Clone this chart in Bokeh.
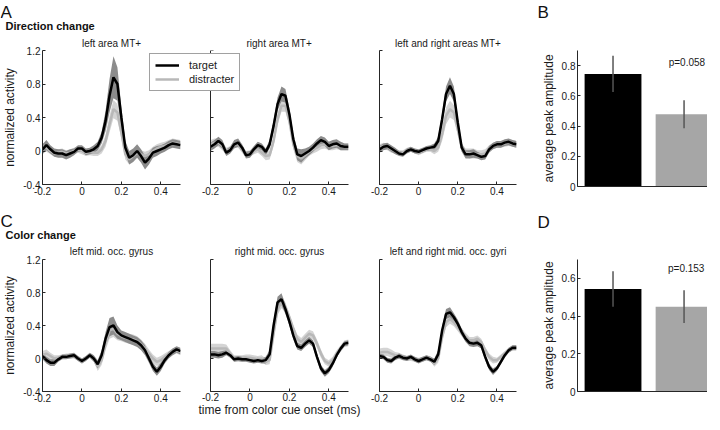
from bokeh.plotting import figure
from bokeh.layouts import column, row
from bokeh.models import (Range1d, FixedTicker, CustomJSTickFormatter, Legend,
                          LegendItem, Label)
from bokeh.embed import file_html
from bokeh.resources import INLINE

FONT = "Liberation Sans"

# ---------------- data ----------------
TIME = [-0.20, -0.18, -0.16, -0.14, -0.12, -0.10, -0.08, -0.06, -0.04, -0.02,
        0.00, 0.02, 0.04, 0.06, 0.08, 0.10, 0.12, 0.14, 0.16, 0.18,
        0.20, 0.22, 0.24, 0.26, 0.28, 0.30, 0.32, 0.34, 0.36, 0.38,
        0.40, 0.42, 0.44, 0.46, 0.48, 0.50]

# Direction change: left area MT+
A1_TARGET = [0.02, 0.07, 0.02, -0.02, -0.03, -0.03, -0.05, -0.03, -0.01, 0.03,
             0.03, -0.01, 0.00, 0.02, 0.06, 0.16, 0.36, 0.66, 0.88, 0.80,
             0.40, 0.04, -0.08, -0.05, 0.00, -0.06, -0.14, -0.09, -0.02, 0.00,
             0.02, 0.04, 0.07, 0.09, 0.08, 0.07]
A1_TARGET_ERR = [0.06, 0.06, 0.05, 0.05, 0.05, 0.05, 0.05, 0.05, 0.04, 0.04,
                 0.04, 0.04, 0.04, 0.05, 0.05, 0.07, 0.12, 0.20, 0.25, 0.20,
                 0.12, 0.08, 0.08, 0.08, 0.08, 0.08, 0.08, 0.07, 0.06, 0.06,
                 0.05, 0.05, 0.05, 0.05, 0.05, 0.05]
A1_DIST = [0.05, 0.04, 0.00, -0.03, -0.02, -0.01, -0.03, -0.02, 0.00, 0.02,
           0.00, -0.02, -0.01, -0.02, -0.02, 0.02, 0.12, 0.32, 0.50, 0.46,
           0.22, -0.04, -0.10, -0.06, -0.02, -0.04, -0.06, -0.04, 0.00, 0.03,
           0.05, 0.06, 0.08, 0.10, 0.09, 0.08]
A1_DIST_ERR = [0.05, 0.05, 0.04, 0.04, 0.04, 0.04, 0.04, 0.04, 0.04, 0.04,
               0.04, 0.04, 0.04, 0.04, 0.04, 0.05, 0.07, 0.10, 0.11, 0.10,
               0.07, 0.06, 0.06, 0.05, 0.05, 0.05, 0.05, 0.05, 0.05, 0.05,
               0.05, 0.05, 0.05, 0.05, 0.05, 0.05]

# Direction change: right area MT+
A2_TARGET = [0.05, 0.08, 0.12, 0.08, -0.02, 0.01, 0.08, 0.10, 0.04, -0.05,
             -0.04, 0.02, 0.07, 0.05, -0.01, 0.08, 0.30, 0.56, 0.68, 0.66,
             0.44, 0.14, -0.04, -0.06, -0.03, 0.00, 0.04, 0.09, 0.13, 0.11,
             0.06, 0.08, 0.09, 0.06, 0.05, 0.05]
A2_TARGET_ERR = [0.05, 0.05, 0.05, 0.05, 0.04, 0.04, 0.05, 0.05, 0.04, 0.04,
                 0.04, 0.04, 0.04, 0.04, 0.04, 0.05, 0.07, 0.08, 0.09, 0.08,
                 0.07, 0.06, 0.07, 0.08, 0.06, 0.05, 0.05, 0.05, 0.05, 0.05,
                 0.05, 0.05, 0.05, 0.05, 0.04, 0.04]
A2_DIST = [0.08, 0.10, 0.10, 0.06, 0.00, 0.02, 0.08, 0.08, 0.02, -0.04,
           -0.03, 0.00, 0.02, -0.02, -0.06, -0.05, 0.12, 0.38, 0.54, 0.54,
           0.36, 0.08, -0.06, -0.09, -0.05, -0.01, 0.02, 0.04, 0.07, 0.08,
           0.06, 0.06, 0.07, 0.06, 0.05, 0.05]
A2_DIST_ERR = [0.05, 0.05, 0.05, 0.05, 0.04, 0.04, 0.04, 0.04, 0.04, 0.04,
               0.04, 0.04, 0.04, 0.04, 0.05, 0.05, 0.06, 0.07, 0.07, 0.07,
               0.06, 0.06, 0.07, 0.07, 0.06, 0.05, 0.05, 0.05, 0.05, 0.05,
               0.05, 0.05, 0.05, 0.05, 0.04, 0.04]

# Direction change: left and right areas MT+
A3_TARGET = [0.02, 0.05, 0.06, 0.03, 0.00, -0.03, -0.04, 0.00, 0.02, 0.00,
             -0.01, 0.01, 0.03, 0.04, 0.05, 0.12, 0.38, 0.68, 0.78, 0.68,
             0.34, 0.04, -0.04, -0.04, -0.03, -0.05, -0.07, -0.06, 0.02, 0.06,
             0.08, 0.08, 0.10, 0.11, 0.09, 0.08]
A3_TARGET_ERR = [0.04, 0.04, 0.04, 0.04, 0.04, 0.03, 0.03, 0.03, 0.03, 0.03,
                 0.03, 0.03, 0.03, 0.03, 0.04, 0.05, 0.07, 0.09, 0.10, 0.09,
                 0.07, 0.05, 0.05, 0.05, 0.05, 0.04, 0.04, 0.04, 0.04, 0.04,
                 0.04, 0.04, 0.04, 0.04, 0.04, 0.04]
A3_DIST = [0.04, 0.06, 0.05, 0.02, 0.00, -0.02, -0.02, 0.01, 0.02, 0.00,
           -0.02, 0.00, 0.02, 0.02, 0.00, 0.04, 0.20, 0.42, 0.50, 0.46,
           0.26, 0.04, -0.02, -0.03, -0.03, -0.04, -0.04, -0.03, 0.03, 0.06,
           0.08, 0.08, 0.09, 0.10, 0.09, 0.08]
A3_DIST_ERR = [0.04, 0.04, 0.04, 0.04, 0.03, 0.03, 0.03, 0.03, 0.03, 0.03,
               0.03, 0.03, 0.03, 0.03, 0.04, 0.05, 0.08, 0.10, 0.10, 0.09,
               0.07, 0.05, 0.05, 0.06, 0.06, 0.05, 0.05, 0.05, 0.04, 0.04,
               0.04, 0.04, 0.04, 0.04, 0.04, 0.04]

# Color change: left mid. occ. gyrus
C1_TARGET = [0.03, -0.02, -0.05, -0.05, -0.01, 0.02, 0.02, 0.03, 0.04, 0.00,
             -0.03, 0.00, 0.04, 0.00, -0.07, 0.04, 0.24, 0.38, 0.40, 0.32,
             0.28, 0.26, 0.24, 0.22, 0.20, 0.16, 0.10, 0.00, -0.10, -0.16,
             -0.10, -0.02, 0.04, 0.08, 0.11, 0.09]
C1_TARGET_ERR = [0.04, 0.04, 0.04, 0.04, 0.03, 0.03, 0.03, 0.03, 0.03, 0.03,
                 0.03, 0.03, 0.03, 0.04, 0.05, 0.06, 0.08, 0.11, 0.11, 0.08,
                 0.06, 0.06, 0.06, 0.06, 0.06, 0.06, 0.06, 0.05, 0.05, 0.05,
                 0.05, 0.04, 0.04, 0.04, 0.04, 0.04]
C1_DIST = [0.04, 0.06, 0.03, 0.00, 0.01, 0.02, 0.03, 0.03, 0.03, 0.00,
           -0.03, 0.00, 0.04, 0.00, -0.10, -0.02, 0.18, 0.34, 0.36, 0.30,
           0.27, 0.25, 0.24, 0.23, 0.21, 0.17, 0.12, 0.06, 0.00, -0.04,
           -0.02, 0.02, 0.05, 0.08, 0.10, 0.08]
C1_DIST_ERR = [0.05, 0.05, 0.04, 0.04, 0.03, 0.03, 0.03, 0.03, 0.03, 0.03,
               0.03, 0.03, 0.03, 0.04, 0.05, 0.06, 0.08, 0.10, 0.10, 0.08,
               0.06, 0.06, 0.06, 0.06, 0.06, 0.06, 0.06, 0.05, 0.05, 0.05,
               0.05, 0.04, 0.04, 0.04, 0.04, 0.04]

# Color change: right mid. occ. gyrus
C2_TARGET = [0.05, 0.05, 0.04, 0.05, 0.07, 0.04, -0.01, 0.00, -0.01, -0.01,
             -0.02, -0.03, -0.02, -0.03, -0.02, 0.05, 0.40, 0.68, 0.72, 0.60,
             0.45, 0.28, 0.15, 0.13, 0.18, 0.22, 0.18, 0.02, -0.12, -0.18,
             -0.14, -0.06, 0.04, 0.12, 0.18, 0.19]
C2_TARGET_ERR = [0.04, 0.04, 0.04, 0.04, 0.03, 0.03, 0.03, 0.03, 0.03, 0.03,
                 0.03, 0.03, 0.03, 0.03, 0.04, 0.05, 0.06, 0.07, 0.07, 0.06,
                 0.05, 0.05, 0.04, 0.04, 0.04, 0.04, 0.04, 0.04, 0.04, 0.04,
                 0.04, 0.04, 0.03, 0.03, 0.03, 0.03]
C2_DIST = [0.12, 0.12, 0.12, 0.12, 0.12, 0.06, 0.00, 0.00, 0.00, 0.01,
           0.01, 0.00, -0.01, 0.00, -0.04, -0.02, 0.30, 0.60, 0.68, 0.62,
           0.50, 0.36, 0.24, 0.20, 0.25, 0.30, 0.28, 0.18, 0.06, -0.03,
           -0.06, -0.02, 0.06, 0.12, 0.18, 0.19]
C2_DIST_ERR = [0.06, 0.06, 0.06, 0.06, 0.05, 0.04, 0.04, 0.04, 0.04, 0.04,
               0.04, 0.04, 0.04, 0.04, 0.04, 0.05, 0.06, 0.07, 0.07, 0.06,
               0.05, 0.05, 0.05, 0.05, 0.05, 0.05, 0.05, 0.05, 0.05, 0.04,
               0.04, 0.04, 0.04, 0.04, 0.04, 0.04]

# Color change: left and right mid. occ. gyri
C3_TARGET = [0.03, 0.02, -0.02, -0.03, 0.01, 0.03, 0.01, 0.00, 0.02, -0.01,
             -0.03, -0.01, 0.01, -0.01, -0.04, 0.05, 0.34, 0.54, 0.56, 0.50,
             0.42, 0.32, 0.24, 0.19, 0.18, 0.19, 0.16, 0.02, -0.10, -0.16,
             -0.12, -0.04, 0.04, 0.10, 0.13, 0.13]
C3_TARGET_ERR = [0.03, 0.03, 0.03, 0.03, 0.03, 0.03, 0.03, 0.03, 0.03, 0.03,
                 0.03, 0.03, 0.03, 0.03, 0.04, 0.05, 0.05, 0.06, 0.06, 0.05,
                 0.05, 0.04, 0.04, 0.04, 0.04, 0.04, 0.04, 0.04, 0.04, 0.04,
                 0.03, 0.03, 0.03, 0.03, 0.03, 0.03]
C3_DIST = [0.07, 0.08, 0.08, 0.06, 0.04, 0.03, 0.02, 0.00, 0.00, -0.01,
           -0.02, -0.01, 0.01, 0.00, -0.06, 0.00, 0.26, 0.44, 0.48, 0.44,
           0.38, 0.32, 0.26, 0.22, 0.22, 0.24, 0.20, 0.10, 0.02, -0.02,
           -0.02, 0.02, 0.06, 0.10, 0.13, 0.13]
C3_DIST_ERR = [0.05, 0.05, 0.05, 0.05, 0.04, 0.04, 0.03, 0.03, 0.03, 0.03,
               0.03, 0.03, 0.03, 0.03, 0.04, 0.05, 0.05, 0.06, 0.06, 0.05,
               0.05, 0.05, 0.05, 0.04, 0.04, 0.04, 0.04, 0.04, 0.04, 0.04,
               0.03, 0.03, 0.03, 0.03, 0.03, 0.03]

# Bar panels (target, distracter)
BAR_POS = [1, 2]
B_MEANS = [0.745, 0.478]
B_ERRS = [0.120, 0.093]
D_MEANS = [0.544, 0.450]
D_ERRS = [0.094, 0.087]

LINE_XTICKS = [-0.2, 0.0, 0.2, 0.4]
LINE_YTICKS = [-0.4, 0.0, 0.4, 0.8, 1.2]
B_YTICKS = [0.0, 0.2, 0.4, 0.6, 0.8]
D_YTICKS = [0.0, 0.2, 0.4, 0.6]

# ---------------- styles ----------------
AX = "#262626"
TXT = "#1a1a1a"
TGT_LINE = "#000000"
TGT_BAND = "#8c8c8c"
DIST_LINE = "#b8b8b8"
DIST_BAND = "#d4d4d4"
BAR_COLORS = ["#000000", "#a6a6a6"]

FMT = CustomJSTickFormatter(code="return String(tick);")
BLANK = CustomJSTickFormatter(code="return '';")


def style_axes(p, xticks, yticks, xlabels=True, ylabels=True):
    p.xaxis.ticker = FixedTicker(ticks=xticks)
    p.yaxis.ticker = FixedTicker(ticks=yticks)
    p.xaxis.formatter = FMT if xlabels else BLANK
    p.yaxis.formatter = FMT if ylabels else BLANK
    for ax in (p.xaxis[0], p.yaxis[0]):
        ax.axis_line_color = AX
        ax.axis_line_width = 1
        ax.major_tick_line_color = AX
        ax.major_tick_in = 3
        ax.major_tick_out = 0
        ax.minor_tick_line_color = None
        ax.major_label_text_font = FONT
        ax.major_label_text_font_size = "10px"
        ax.major_label_text_color = TXT
        ax.major_label_standoff = 2
        ax.axis_label_text_font = FONT
        ax.axis_label_text_font_size = "12px"
        ax.axis_label_text_font_style = "normal"
        ax.axis_label_text_color = TXT
        ax.axis_label_standoff = 3
    p.xgrid.visible = False
    p.ygrid.visible = False


def base_fig(fw, fh, xr, yr, bl, br, bt, bb):
    return figure(frame_width=fw, frame_height=fh, x_range=xr, y_range=yr,
                  output_backend="svg", toolbar_location=None,
                  min_border_left=bl, min_border_right=br,
                  min_border_top=bt, min_border_bottom=bb,
                  background_fill_color=None, border_fill_color=None,
                  outline_line_color=None)


def line_panel(title, tgt, tgt_err, dst, dst_err, fw, fh, bl, br, bt, bb,
               ylabels, title_standoff, ylabel=None, xlabel=None, xstart=-0.2):
    p = base_fig(fw, fh, Range1d(xstart, 0.5), Range1d(-0.4, 1.2), bl, br, bt, bb)
    d_lo = [m - e for m, e in zip(dst, dst_err)]
    d_hi = [m + e for m, e in zip(dst, dst_err)]
    t_lo = [m - e for m, e in zip(tgt, tgt_err)]
    t_hi = [m + e for m, e in zip(tgt, tgt_err)]
    p.varea(x=TIME, y1=d_lo, y2=d_hi, fill_color=DIST_BAND)
    p.varea(x=TIME, y1=t_lo, y2=t_hi, fill_color=TGT_BAND)
    rd = p.line(TIME, dst, line_color=DIST_LINE, line_width=2.5)
    rt = p.line(TIME, tgt, line_color=TGT_LINE, line_width=2.5)
    p.title.text = title
    p.title.align = "center"
    p.title.text_font = FONT
    p.title.text_font_size = "10px"
    p.title.text_font_style = "normal"
    p.title.text_color = TXT
    p.title.standoff = title_standoff
    style_axes(p, LINE_XTICKS, LINE_YTICKS, True, ylabels)
    if ylabel:
        p.yaxis.axis_label = ylabel
    if xlabel:
        p.xaxis.axis_label = xlabel
        p.xaxis.major_label_standoff = 1
        p.xaxis.axis_label_standoff = -1
    return p, rt, rd


def bar_panel(means, errs, yticks, ymax, fh, bt, bb, ptext, px, py):
    p = base_fig(130, fh, Range1d(0.5, 2.33), Range1d(0, ymax), 37, 0, bt, bb)
    p.vbar(x=BAR_POS, top=means, width=0.8, fill_color=BAR_COLORS, line_color=None)
    p.segment(x0=BAR_POS, y0=[m - e for m, e in zip(means, errs)],
              x1=BAR_POS, y1=[m + e for m, e in zip(means, errs)],
              line_color="#555555", line_width=1.5)
    style_axes(p, [], yticks, False, True)
    p.xaxis.major_tick_line_color = None
    p.yaxis.axis_label = "average peak amplitude"
    p.add_layout(Label(x=px, y=py, text=ptext, text_font=FONT,
                       text_font_size="10px", text_color=TXT,
                       text_align="center", text_baseline="middle"))
    return p


def header(h, items):
    p = figure(width=704, height=h, x_range=Range1d(0, 704), y_range=Range1d(h, 0),
               x_axis_type=None, y_axis_type=None, output_backend="svg",
               toolbar_location=None, min_border=0, outline_line_color=None,
               background_fill_color=None, border_fill_color=None)
    for x, y, txt, size, style in items:
        p.add_layout(Label(x=x, y=y, text=txt, text_font=FONT, text_font_size=size,
                           text_font_style=style, text_color="#111111",
                           text_baseline="alphabetic", text_align="left"))
    return p


# ---------------- row A ----------------
h1 = header(33, [(0, 12, "A", "17px", "normal"),
                 (5, 25, "Direction change", "11px", "bold"),
                 (537, 12, "B", "17px", "normal")])

pA1, _, _ = line_panel("left area MT+", A1_TARGET, A1_TARGET_ERR, A1_DIST, A1_DIST_ERR,
                       138, 134, 41, 15, 16, 19, True, 4, ylabel="normalized activity")

# the second panel's frame reaches left under the legend; its axes stay at t=-0.2
A2_EXTRA = 62 / 197.0
pA2, rt2, rd2 = line_panel("right area MT+", A2_TARGET, A2_TARGET_ERR, A2_DIST, A2_DIST_ERR,
                           200, 134, 8, 16, 16, 19, False, 4, xstart=-0.2 - A2_EXTRA)
pA2.yaxis.fixed_location = -0.2
pA2.xaxis.bounds = (-0.2, 0.5)
pA2.title.align = "left"
pA2.title.offset = 98
pA2.margin = (0, 0, 0, -55)
legend = Legend(items=[LegendItem(label="target", renderers=[rt2]),
                       LegendItem(label="distracter", renderers=[rd2])],
                location=(1, 93), margin=0, padding=5, spacing=2,
                glyph_width=24, glyph_height=12, label_height=12,
                label_standoff=10, label_text_font=FONT,
                label_text_font_size="11px", label_text_color=TXT,
                border_line_color="#444444", border_line_width=1,
                background_fill_color="white", background_fill_alpha=1)
pA2.add_layout(legend)
pA3, _, _ = line_panel("left and right areas MT+", A3_TARGET, A3_TARGET_ERR, A3_DIST, A3_DIST_ERR,
                       137, 134, 15, 22, 16, 19, False, 4)
pB = bar_panel(B_MEANS, B_ERRS, B_YTICKS, 0.9, 136, 14, 19, "p=0.058", 2.04, 0.82)

# ---------------- row C ----------------
h2 = header(38, [(0, 18, "C", "17px", "normal"),
                 (5, 31, "Color change", "11px", "bold"),
                 (537, 19, "D", "17px", "normal")])

pC1, _, _ = line_panel("left mid. occ. gyrus", C1_TARGET, C1_TARGET_ERR, C1_DIST, C1_DIST_ERR,
                       138, 132, 41, 15, 18, 24, True, 5, ylabel="normalized activity")
pC2, _, _ = line_panel("right mid. occ. gyrus", C2_TARGET, C2_TARGET_ERR, C2_DIST, C2_DIST_ERR,
                       138, 132, 15, 16, 18, 24, False, 5, xlabel="time from color cue onset (ms)")
pC3, _, _ = line_panel("left and right mid. occ. gyri", C3_TARGET, C3_TARGET_ERR, C3_DIST, C3_DIST_ERR,
                       137, 132, 15, 22, 18, 24, False, 5)
pD = bar_panel(D_MEANS, D_ERRS, D_YTICKS, 0.7, 132, 18, 24, "p=0.153", 2.03, 0.65)

layout = column(h1, row(pA1, pA2, pA3, pB), h2, row(pC1, pC2, pC3, pD))

open("out.html", "w").write(file_html(layout, INLINE))
